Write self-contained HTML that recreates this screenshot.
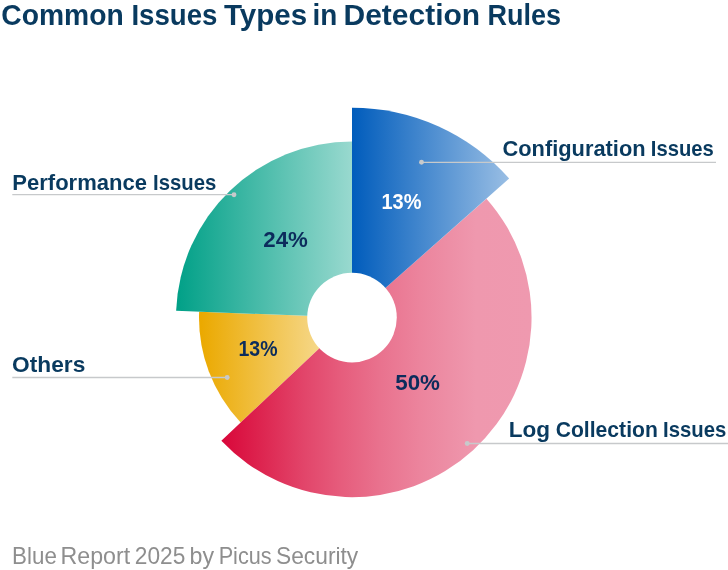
<!DOCTYPE html>
<html lang="en"><head><meta charset="utf-8"><title>Common Issues Types in Detection Rules</title>
<style>
html,body{margin:0;padding:0;background:#fff;}
body{width:728px;height:570px;overflow:hidden;font-family:"Liberation Sans",sans-serif;}
svg{display:block;font-family:"Liberation Sans",sans-serif;}
</style></head><body>
<svg width="728" height="570" viewBox="0 0 728 570">
<defs>
<linearGradient id="g_blue" gradientUnits="userSpaceOnUse" x1="352" y1="0" x2="509" y2="0"><stop offset="0.0000" stop-color="#005cbc"/><stop offset="1.0000" stop-color="#99bee4"/></linearGradient>
<linearGradient id="g_green" gradientUnits="userSpaceOnUse" x1="176" y1="0" x2="352" y2="0"><stop offset="0.0000" stop-color="#00a087"/><stop offset="1.0000" stop-color="#99d9cf"/></linearGradient>
<linearGradient id="g_yellow" gradientUnits="userSpaceOnUse" x1="201" y1="0" x2="334" y2="0"><stop offset="0.0000" stop-color="#eba900"/><stop offset="1.0000" stop-color="#f7dd99"/></linearGradient>
<linearGradient id="g_pink" gradientUnits="userSpaceOnUse" x1="222" y1="0" x2="531" y2="0"><stop offset="0.0000" stop-color="#d9073a"/><stop offset="0.1230" stop-color="#dd244f"/><stop offset="0.2654" stop-color="#e2456a"/><stop offset="0.3819" stop-color="#e65c7c"/><stop offset="0.5113" stop-color="#e9728e"/><stop offset="0.6408" stop-color="#ec849d"/><stop offset="0.7379" stop-color="#ed8fa6"/><stop offset="0.8220" stop-color="#ef98ae"/><stop offset="1.0000" stop-color="#ef99af"/></linearGradient>
</defs>
<rect width="728" height="570" fill="#ffffff"/>
<path d="M352.00,317.60 L240.65,422.53 A153.0,153.0 0 0 1 199.11,311.73 Z" fill="url(#g_yellow)"/>
<path d="M352.00,317.60 L176.13,310.84 A176.0,176.0 0 0 1 352.00,141.60 Z" fill="url(#g_green)"/>
<path d="M352.00,317.60 L486.44,198.66 A179.5,179.5 0 0 1 221.36,440.70 Z" fill="url(#g_pink)"/>
<path d="M352.00,317.60 L352.00,107.80 A209.8,209.8 0 0 1 509.13,178.58 Z" fill="url(#g_blue)"/>
<circle cx="352.0" cy="317.6" r="44.8" fill="#ffffff"/>
<line x1="421.5" y1="162.3" x2="716" y2="162.3" stroke="#c7c9cb" stroke-width="1.3"/><circle cx="421.5" cy="162.3" r="2.45" fill="#c7c9cb"/>
<line x1="12.3" y1="194.7" x2="234" y2="194.7" stroke="#c7c9cb" stroke-width="1.3"/><circle cx="234" cy="194.7" r="2.45" fill="#c7c9cb"/>
<line x1="12.3" y1="377.5" x2="227.2" y2="377.5" stroke="#c7c9cb" stroke-width="1.3"/><circle cx="227.2" cy="377.5" r="2.45" fill="#c7c9cb"/>
<line x1="467.2" y1="443.5" x2="728" y2="443.5" stroke="#c7c9cb" stroke-width="1.3"/><circle cx="467.2" cy="443.5" r="2.45" fill="#c7c9cb"/>
<text y="24.8" font-size="30.2" font-weight="bold" fill="#093a5f"><tspan x="1.33" textLength="122.36" lengthAdjust="spacingAndGlyphs">Common</tspan> <tspan x="131.42" textLength="85.96" lengthAdjust="spacingAndGlyphs">Issues</tspan> <tspan x="224.01" textLength="83.23" lengthAdjust="spacingAndGlyphs">Types</tspan> <tspan x="312.4" textLength="24.79" lengthAdjust="spacingAndGlyphs">in</tspan> <tspan x="343.51" textLength="136.67" lengthAdjust="spacingAndGlyphs">Detection</tspan> <tspan x="487.51" textLength="73.58" lengthAdjust="spacingAndGlyphs">Rules</tspan></text>
<text y="156.1" font-size="21.8" font-weight="bold" fill="#093a5f"><tspan x="502.5" textLength="143.13" lengthAdjust="spacingAndGlyphs">Configuration</tspan> <tspan x="650.86" textLength="62.95" lengthAdjust="spacingAndGlyphs">Issues</tspan></text>
<text y="189.9" font-size="21.8" font-weight="bold" fill="#093a5f"><tspan x="12.28" textLength="134.74" lengthAdjust="spacingAndGlyphs">Performance</tspan> <tspan x="153.1" textLength="63.21" lengthAdjust="spacingAndGlyphs">Issues</tspan></text>
<text y="372.4" font-size="21.8" font-weight="bold" fill="#093a5f"><tspan x="12.11" textLength="73.25" lengthAdjust="spacingAndGlyphs">Others</tspan></text>
<text y="437.2" font-size="21.8" font-weight="bold" fill="#093a5f"><tspan x="508.65" textLength="41.36" lengthAdjust="spacingAndGlyphs">Log</tspan> <tspan x="555.73" textLength="102.09" lengthAdjust="spacingAndGlyphs">Collection</tspan> <tspan x="663.1" textLength="63.21" lengthAdjust="spacingAndGlyphs">Issues</tspan></text>
<text y="208.9" font-size="22.4" font-weight="bold" fill="#ffffff"><tspan x="381.46" textLength="39.95" lengthAdjust="spacingAndGlyphs">13%</tspan></text>
<text y="246.7" font-size="22.4" font-weight="bold" fill="#0c2c5c"><tspan x="263.25" textLength="44.57" lengthAdjust="spacingAndGlyphs">24%</tspan></text>
<text y="356.1" font-size="22.4" font-weight="bold" fill="#0c2c5c"><tspan x="238.49" textLength="39.11" lengthAdjust="spacingAndGlyphs">13%</tspan></text>
<text y="390.4" font-size="22.4" font-weight="bold" fill="#0c2c5c"><tspan x="395.25" textLength="44.73" lengthAdjust="spacingAndGlyphs">50%</tspan></text>
<text y="563.7" font-size="23.2" font-weight="normal" fill="#8e8e8e"><tspan x="12.07" textLength="44.76" lengthAdjust="spacingAndGlyphs">Blue</tspan> <tspan x="60.5" textLength="69.61" lengthAdjust="spacingAndGlyphs">Report</tspan> <tspan x="134.78" textLength="50.49" lengthAdjust="spacingAndGlyphs">2025</tspan> <tspan x="189.5" textLength="24.5" lengthAdjust="spacingAndGlyphs">by</tspan> <tspan x="218.63" textLength="53.03" lengthAdjust="spacingAndGlyphs">Picus</tspan> <tspan x="276.02" textLength="82.2" lengthAdjust="spacingAndGlyphs">Security</tspan></text>
</svg>
</body></html>
